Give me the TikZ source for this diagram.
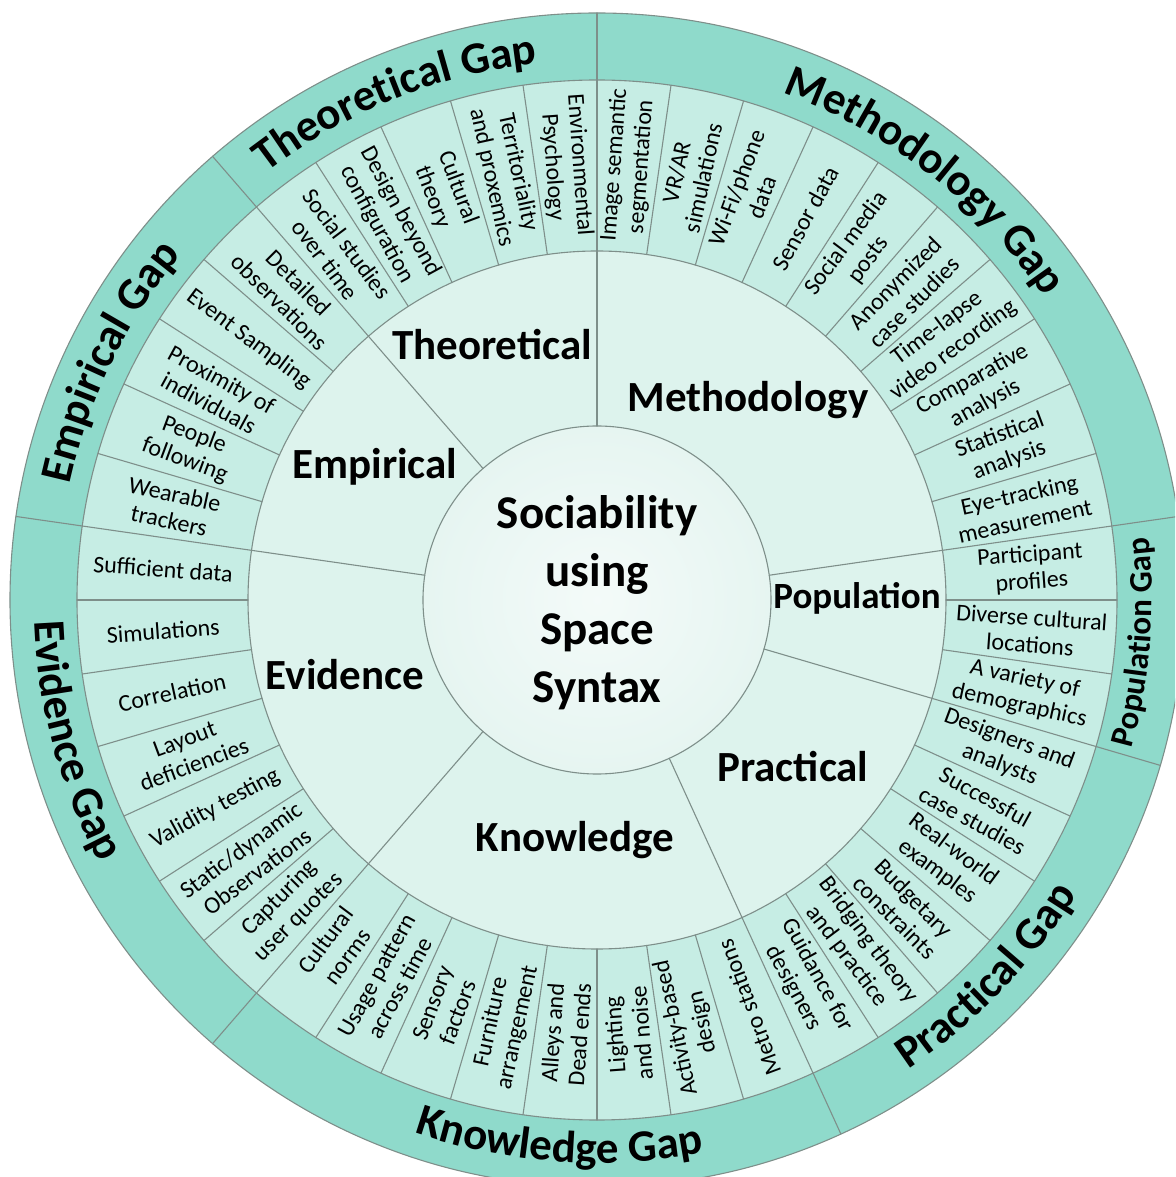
\documentclass[tikz,border=0pt]{standalone}
\usepackage{fontspec}
\setmainfont{Carlito}
\usetikzlibrary{decorations.text}

\definecolor{gapteal}{HTML}{8FDACB}
\definecolor{itemteal}{HTML}{C6EDE4}
\definecolor{catteal}{HTML}{DDF3ED}
\definecolor{coreteal}{HTML}{E6F5F1}
\definecolor{linegray}{HTML}{7E8F8A}

\begin{document}
\begin{tikzpicture}[x=1pt,y=1pt,line cap=round,line join=round,
  sep/.style={draw=linegray,line width=1.1pt},
  itemlabel/.style={align=center,inner sep=0pt,font=\fontsize{24}{27}\selectfont},
  catlabel/.style={inner sep=0pt,font=\fontsize{43}{48}\selectfont\bfseries},
  gaptext/.style={decorate,decoration={text along path,text align=center,
    text={|\fontsize{45}{45}\selectfont\bfseries|#1}}},
  smallgaptext/.style={decorate,decoration={text along path,text align=center,
    text={|\fontsize{33}{33}\selectfont\bfseries|#1}}}]
  \clip (-597,-577) rectangle (578,600);

  %--- Rings ---------------------------------------------------------------
  \fill[gapteal] (0,0) circle (587pt);
  \fill[itemteal] (0,0) circle (520pt);
  \fill[catteal] (0,0) circle (349pt);
  \shade[inner color=white!55!coreteal,outer color=coreteal] (0,0) circle (174pt);
  \foreach \r in {174,349,520,587}
    \draw[sep] (0,0) circle (\r pt);

  % item separators (44 equal sectors from the top)
  \foreach \i in {0,...,43}
    \draw[sep] (90+\i*360/44:349pt) -- (90+\i*360/44:520pt);

  % category and gap separators
  \foreach \i in {0,5,10,17,25,31,34} {
    \draw[sep] (90+\i*360/44:174pt) -- (90+\i*360/44:349pt);
    \draw[sep] (90+\i*360/44:520pt) -- (90+\i*360/44:587pt);
  }

  %--- Item labels ---------------------------------------------------------
  \foreach \txt [count=\i from 0] in {
      {Environmental\\Psychology},{Territoriality\\and proxemics},{Cultural\\theory},
      {Design beyond\\configuration},{Social studies\\over time},
      {Detailed\\observations},{Event Sampling},{Proximity of\\individuals},
      {People\\following},{Wearable\\trackers},
      {Sufficient data},{Simulations},{Correlation},{Layout\\deficiencies},
      {Validity testing},{Static/dynamic\\Observations},{Capturing\\user quotes},
      {Cultural\\norms},{Usage pattern\\across time},{Sensory\\factors},
      {Furniture\\arrangement},{Alleys and\\Dead ends},{Lighting\\and noise},
      {Activity-based\\design},{Metro stations},
      {Guidance for\\designers},{Bridging theory\\and practice},{Budgetary\\constraints},
      {Real-world\\examples},{Successful\\case studies},{Designers and\\analysts},
      {A variety of\\demographics},{Diverse cultural\\locations},{Participant\\profiles},
      {Eye-tracking\\measurement},{Statistical\\analysis},{Comparative\\analysis},
      {Time-lapse\\video recording},{Anonymized\\case studies},{Social media\\posts},
      {Sensor data},{Wi-Fi/phone\\data},{VR/AR\\simulations},
      {Image semantic\\segmentation}} {
    \pgfmathsetmacro\ang{90+(\i+0.5)*360/44}
    \pgfmathsetmacro\rot{\i<25 ? \ang-180 : \ang}
    \node[itemlabel,rotate=\rot] (item\i) at (\ang:435pt) {\txt};
  }

  %--- Category labels -----------------------------------------------------
  \node[catlabel] (theo) at (-105,255) {Theoretical};
  \node[catlabel] (emp)  at (-222,133) {Empirical};
  \node[catlabel] (evid) at (-252,-75) {Evidence};
  \node[catlabel] (know) at (-22,-240) {Knowledge};
  \node[catlabel] (prac) at (196,-167) {Practical};
  \node[catlabel,font=\fontsize{37}{40}\selectfont\bfseries] (pop) at (260,2) {Population};
  \node[catlabel] (meth) at (151,200) {Methodology};

  \node[align=center,inner sep=0pt,font=\fontsize{47}{58}\selectfont\bfseries]
    (core) at (0,-3) {Sociability\\using\\Space\\Syntax};

  %--- Gap labels on the outer ring ---------------------------------------
  \path[gaptext=Theoretical Gap] (152:540pt) arc[start angle=152,end angle=72,radius=540pt];
  \path[gaptext=Methodology Gap] (92:540pt) arc[start angle=92,end angle=12,radius=540pt];
  \path[gaptext=Empirical Gap] (194:540pt) arc[start angle=194,end angle=114,radius=540pt];
  \path[gaptext=Evidence Gap] (155:563pt) arc[start angle=155,end angle=235,radius=563pt];
  \path[gaptext=Knowledge Gap] (226:563pt) arc[start angle=226,end angle=306,radius=563pt];
  \path[gaptext=Practical Gap] (276:563pt) arc[start angle=276,end angle=356,radius=563pt];
  \path[smallgaptext=Population Gap] (320:555pt) arc[start angle=320,end angle=391,radius=555pt];
\end{tikzpicture}
\end{document}
